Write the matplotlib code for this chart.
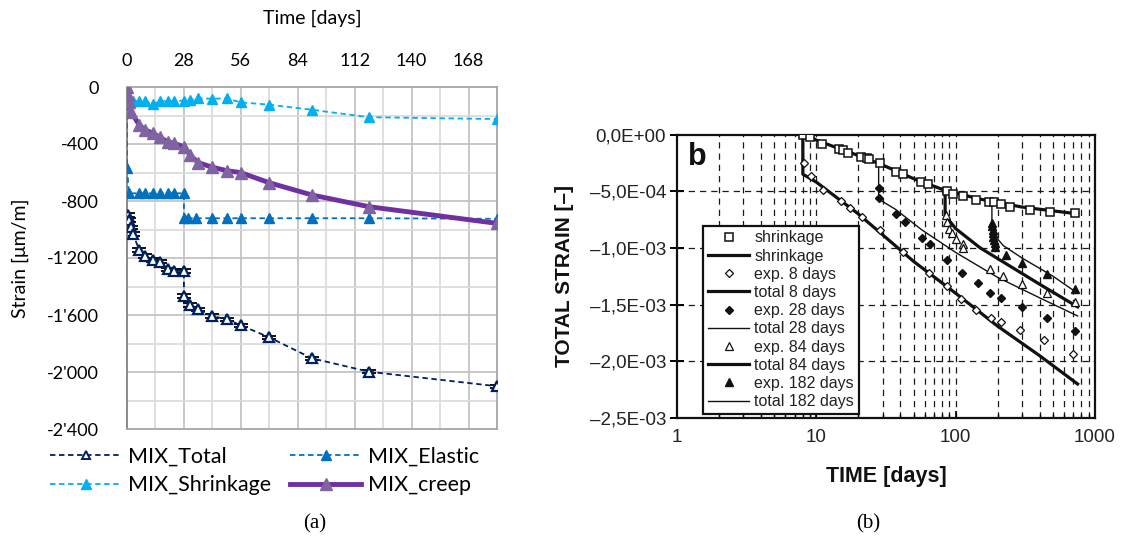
import numpy as np
import matplotlib
matplotlib.use("Agg")
import matplotlib.pyplot as plt
from matplotlib.lines import Line2D
from matplotlib.ticker import LogLocator, NullFormatter

# ---------------- panel (a) data : strain in um/m vs time in days ----------------
a_xticks = [0, 28, 56, 84, 112, 140, 168]
a_yticks = [0, -400, -800, -1200, -1600, -2000, -2400]
a_yticklabels = ["0", "-400", "-800", "-1'200", "-1'600", "-2'000", "-2'400"]

total_days = [0.5, 1, 2, 3, 6, 9, 13, 16, 20, 23, 28, 28, 31, 35, 42, 49, 56, 70, 91, 119, 182]
total_vals = [-898, -933, -985, -1032, -1144, -1186, -1214, -1226, -1280, -1291, -1291,
              -1467, -1530, -1560, -1607, -1630, -1672, -1757, -1904, -1998, -2100]

elastic_days = [0, 0, 1, 6, 9, 13, 16, 20, 23, 28, 28, 30, 34, 42, 49, 56, 70, 91, 119, 182]
elastic_vals = [0, -570, -746, -746, -746, -746, -746, -746, -746, -746,
                -921, -921, -921, -921, -921, -921, -921, -921, -921, -925]

shrink_days = [0, 1, 3, 6, 9, 13, 16, 20, 23, 28, 31, 35, 42, 49, 56, 70, 91, 119, 182]
shrink_vals = [-90, -100, -100, -100, -100, -122, -100, -100, -100, -95, -92, -80, -82,
               -80, -108, -124, -160, -212, -225]

creep_days = [0, 0.5, 1, 2, 6, 9, 13, 16, 20, 23, 28, 31, 35, 42, 49, 56, 70, 91, 119, 182]
creep_vals = [0, -56, -103, -173, -267, -302, -325, -353, -384, -395, -419, -477, -531,
              -563, -587, -601, -672, -758, -840, -957]

# ---------------- panel (b) data : total strain [-] vs time (log) ----------------
b_yticks = [0, -5e-4, -1e-3, -1.5e-3, -2e-3, -2.5e-3]
b_yticklabels = ["0,0E+00", "\u20135,0E-04", "\u20131,0E-03", "\u20131,5E-03",
                 "\u20132,0E-03", "\u20132,5E-03"]
b_xticks = [1, 10, 100, 1000]
b_xticklabels = ["1", "10", "100", "1000"]

shr_t = [8, 9, 11, 14.6, 15.5, 17, 21, 23, 24, 28.7, 37, 42, 56, 63, 86, 96, 112, 141,
         174, 188, 213, 245, 341, 475, 718]
shr_v = [0, -0.25e-4, -0.8e-4, -1.3e-4, -1.4e-4, -1.6e-4, -1.95e-4, -2.1e-4, -2.2e-4,
         -2.5e-4, -3.3e-4, -3.5e-4, -4.2e-4, -4.4e-4, -5.0e-4, -5.25e-4, -5.4e-4, -5.8e-4,
         -5.95e-4, -5.95e-4, -6.1e-4, -6.4e-4, -6.7e-4, -6.8e-4, -6.9e-4]
shr_mod_t = [8.5, 10, 15, 20, 30, 50, 85, 150, 300, 750]
shr_mod_v = [0, -0.5e-4, -1.3e-4, -1.85e-4, -2.7e-4, -3.9e-4, -4.95e-4, -5.7e-4, -6.4e-4, -7.0e-4]

exp8_t = [8.2, 9.1, 11.2, 15, 17.3, 21.3, 28.7, 41.8, 64, 86.5, 110, 141, 179, 213, 289, 430, 695]
exp8_v = [-2.5e-4, -3.7e-4, -4.9e-4, -5.9e-4, -6.5e-4, -7.3e-4, -8.4e-4, -10.4e-4, -12.2e-4,
          -13.4e-4, -14.5e-4, -15.5e-4, -16.2e-4, -16.5e-4, -17.2e-4, -18.1e-4, -19.4e-4]
tot8_t = [8, 8, 10, 20, 50, 100, 200, 400, 750]
tot8_v = [0, -3.5e-4, -4.2e-4, -7.0e-4, -11.2e-4, -14.0e-4, -16.9e-4, -19.5e-4, -22.0e-4]

exp28_t = [28, 28.3, 37, 43, 57, 65, 86, 111, 144, 176, 213, 300, 450, 720]
exp28_v = [-4.75e-4, -5.6e-4, -7.0e-4, -7.7e-4, -9.1e-4, -9.7e-4, -11.1e-4, -12.2e-4,
           -13.1e-4, -14.0e-4, -14.4e-4, -15.2e-4, -16.2e-4, -17.3e-4]
tot28_t = [28, 28, 37, 57, 100, 200, 400, 750]
tot28_v = [-2.5e-4, -5.7e-4, -6.6e-4, -8.4e-4, -10.4e-4, -12.6e-4, -14.4e-4, -16.0e-4]

exp84_t = [85.7, 86, 89, 94, 100, 112, 113, 176, 219, 300, 450, 720]
exp84_v = [-7.1e-4, -7.7e-4, -8.3e-4, -8.7e-4, -9.2e-4, -9.7e-4, -10.0e-4, -11.9e-4,
           -12.5e-4, -13.2e-4, -14.0e-4, -14.8e-4]
tot84_t = [84, 84, 90, 100, 150, 245, 400, 750]
tot84_v = [-5.0e-4, -7.2e-4, -7.6e-4, -8.3e-4, -10.0e-4, -11.6e-4, -13.2e-4, -15.2e-4]

exp182_t = [182, 183, 184, 185, 186, 188, 190, 192, 230, 300, 450, 720]
exp182_v = [-7.8e-4, -8.1e-4, -8.4e-4, -8.7e-4, -9.0e-4, -9.3e-4, -9.6e-4, -9.9e-4,
            -10.6e-4, -11.3e-4, -12.3e-4, -13.6e-4]
tot182_t = [182, 182, 190, 220, 300, 500, 750]
tot182_v = [-6.0e-4, -8.3e-4, -8.9e-4, -9.8e-4, -10.9e-4, -12.5e-4, -14.0e-4]

W, H = 1123, 546
fig = plt.figure(figsize=(W / 100, H / 100), dpi=100)
fig.patch.set_facecolor("white")

# ================= panel (a) =================
fa = "Lato"
axA = fig.add_axes([127 / W, 1 - 429 / H, (497 - 127) / W, (429 - 87) / H])
axA.set_xlim(0, 182)
axA.set_ylim(-2400, 0)

# excel style grid
for d in np.arange(14, 182, 14):
    axA.axvline(d, color="#BFBFBF" if d % 28 == 0 else "#D9D9D9", lw=1.2, zorder=0)
for v in np.arange(-200, -2400, -200):
    axA.axhline(v, color="#BFBFBF" if v % 400 == 0 else "#D9D9D9", lw=1.2, zorder=0)
for s in ["top", "right", "bottom"]:
    axA.spines[s].set_color("#A6A6A6")
    axA.spines[s].set_linewidth(1.3)
axA.spines["left"].set_color("#808080")
axA.spines["left"].set_linewidth(1.3)

dash = (0, (3, 2))
axA.errorbar(total_days, total_vals, yerr=12, fmt="none", ecolor="black",
             elinewidth=1, capsize=5, capthick=1.3, zorder=2)
axA.plot(total_days, total_vals, ls=dash, lw=1.3, color="#002060", marker="^", ms=7,
         mfc="white", mec="#002060", mew=1.6, zorder=3)
axA.plot(elastic_days, elastic_vals, ls=dash, lw=1.3, color="#0070C0", marker="^", ms=7,
         zorder=3)
axA.plot(shrink_days, shrink_vals, ls=dash, lw=1.3, color="#00B0F0", marker="^", ms=7,
         zorder=3)
axA.plot(creep_days, creep_vals, ls="-", lw=3.5, color="#7030A0", marker="^", ms=8,
         mfc="#8064A2", mec="#8064A2", zorder=4)

axA.xaxis.tick_top()
axA.set_xticks(a_xticks)
axA.set_xticklabels([str(t) for t in a_xticks], fontsize=13, family=fa)
axA.set_yticks(a_yticks)
axA.set_yticklabels(a_yticklabels, fontsize=13, family=fa)
axA.tick_params(axis="x", length=0, pad=13)
axA.tick_params(axis="y", length=0, pad=20)
axA.set_xlabel("Time [days]", fontsize=14, family=fa)
axA.xaxis.set_label_position("top")
axA.xaxis.set_label_coords(0.5, 1 + (87 - 18) / 342, transform=axA.transAxes)
axA.xaxis.label.set_verticalalignment("center")
axA.set_ylabel("Strain [\u03bcm/m]", fontsize=14, family=fa)
axA.yaxis.set_label_coords(-(127 - 20) / 370, 0.5)
axA.yaxis.label.set_verticalalignment("center")

hA = [
    Line2D([], [], ls=dash, lw=1.3, color="#002060", marker="^", ms=6, mfc="white",
           mec="#002060", mew=1.4),
    Line2D([], [], ls=dash, lw=1.3, color="#00B0F0", marker="^", ms=7),
    Line2D([], [], ls=dash, lw=1.3, color="#0070C0", marker="^", ms=7),
    Line2D([], [], ls="-", lw=3.5, color="#7030A0", marker="^", ms=8, mfc="#8064A2",
           mec="#8064A2"),
]
axA.legend(hA, ["MIX_Total", "MIX_Shrinkage", "MIX_Elastic", "MIX_creep"], ncol=2,
           loc="upper left", bbox_to_anchor=(50 / W, 1 - 447 / H),
           bbox_transform=fig.transFigure, frameon=False, prop={"family": fa, "size": 15.5},
           handlelength=3.3, handletextpad=0.3, columnspacing=0.9, labelspacing=0.38,
           borderpad=0, borderaxespad=0)

fig.text(315 / W, 1 - 524 / H, "(a)", family="Liberation Serif", fontsize=15,
         ha="center", va="center")

# ================= panel (b) =================
fb = "Liberation Sans"
axB = fig.add_axes([677 / W, 1 - 418 / H, (1095 - 677) / W, (418 - 134.5) / H])
axB.set_xscale("log")
axB.set_xlim(1, 1000)
axB.set_ylim(-2.5e-3, 0)

grid_dash = (0, (5, 4))
for dec in [1, 10, 100]:
    for m in range(1, 10):
        x = dec * m
        if x > 1:
            axB.axvline(x, color="#1a1a1a", lw=0.9, ls=grid_dash, zorder=0)
for v in b_yticks[1:-1]:
    axB.axhline(v, color="#1a1a1a", lw=0.9, ls=grid_dash, zorder=0)
for s in axB.spines.values():
    s.set_linewidth(1.6)
    s.set_color("#111111")

k = "#111111"
thick, thin = 2.3, 1.0
axB.plot(shr_mod_t, shr_mod_v, color=k, lw=thick, zorder=3)
axB.plot(shr_t, shr_v, ls="none", marker="s", ms=5.5, mfc="white", mec=k, mew=1.1, zorder=4)
axB.plot(tot8_t, tot8_v, color=k, lw=thick, zorder=3)
axB.plot(exp8_t, exp8_v, ls="none", marker="D", ms=4, mfc="white", mec=k, mew=0.9, zorder=4)
axB.plot(tot28_t, tot28_v, color=k, lw=thin, zorder=3)
axB.plot(exp28_t, exp28_v, ls="none", marker="D", ms=4.5, mfc=k, mec=k, zorder=4)
axB.plot(tot84_t, tot84_v, color=k, lw=thick, zorder=3)
axB.plot(exp84_t, exp84_v, ls="none", marker="^", ms=5.5, mfc="white", mec=k, mew=0.9, zorder=4)
axB.plot(tot182_t, tot182_v, color=k, lw=thin, zorder=3)
axB.plot(exp182_t, exp182_v, ls="none", marker="^", ms=5.5, mfc=k, mec=k, zorder=4)

axB.set_xticks(b_xticks)
axB.set_xticklabels(b_xticklabels, fontsize=13.5, family=fb, color="#222222")
axB.xaxis.set_minor_locator(LogLocator(base=10, subs=np.arange(2, 10)))
axB.xaxis.set_minor_formatter(NullFormatter())
axB.tick_params(axis="x", which="major", direction="in", length=5, width=1.2, pad=8)
axB.tick_params(axis="x", which="minor", direction="in", length=3, width=1)
axB.set_yticks(b_yticks)
axB.set_yticklabels(b_yticklabels, fontsize=13.5, family=fb, color="#222222")
axB.tick_params(axis="y", direction="inout", length=10, width=1.4, pad=3)
axB.set_xlabel("TIME [days]", fontsize=15.5, family=fb, fontweight="bold", labelpad=14,
               color="#111111")
axB.set_ylabel("TOTAL STRAIN [\u2013]", fontsize=15, family=fb, fontweight="bold",
               color="#111111")
axB.yaxis.set_label_coords(-(677 - 565) / 418, 0.5)
axB.yaxis.label.set_verticalalignment("center")

fig.text(697 / W, 1 - 157 / H, "b", fontsize=22, family=fb, fontweight="bold",
         ha="center", va="center", color="#111111")

hB = [
    Line2D([], [], ls="none", marker="s", ms=5.5, mfc="white", mec=k, mew=1.1),
    Line2D([], [], color=k, lw=thick),
    Line2D([], [], ls="none", marker="D", ms=4, mfc="white", mec=k, mew=0.9),
    Line2D([], [], color=k, lw=thick),
    Line2D([], [], ls="none", marker="D", ms=4.5, mfc=k, mec=k),
    Line2D([], [], color=k, lw=thin),
    Line2D([], [], ls="none", marker="^", ms=5.5, mfc="white", mec=k, mew=0.9),
    Line2D([], [], color=k, lw=thick),
    Line2D([], [], ls="none", marker="^", ms=5.5, mfc=k, mec=k),
    Line2D([], [], color=k, lw=thin),
]
labB = ["shrinkage", "shrinkage", "exp. 8 days", "total 8 days", "exp. 28 days",
        "total 28 days", "exp. 84 days", "total 84 days", "exp. 182 days", "total 182 days"]
legB = axB.legend(hB, labB, loc="lower left",
                  bbox_to_anchor=((703 - 677) / 418, (418 - 414) / 283.5),
                  borderaxespad=0, fancybox=False, framealpha=1, edgecolor="#111111",
                  prop={"family": fb, "size": 11.5}, handlelength=2.6, handletextpad=0.3,
                  labelspacing=0.2, borderpad=0.3)
legB.get_frame().set_linewidth(1.6)
for t in legB.get_texts():
    t.set_color("#222222")
legB.set_zorder(6)

fig.text(868 / W, 1 - 524 / H, "(b)", family="Liberation Serif", fontsize=15,
         ha="center", va="center")

fig.savefig("out.png", dpi=100, facecolor="white")
